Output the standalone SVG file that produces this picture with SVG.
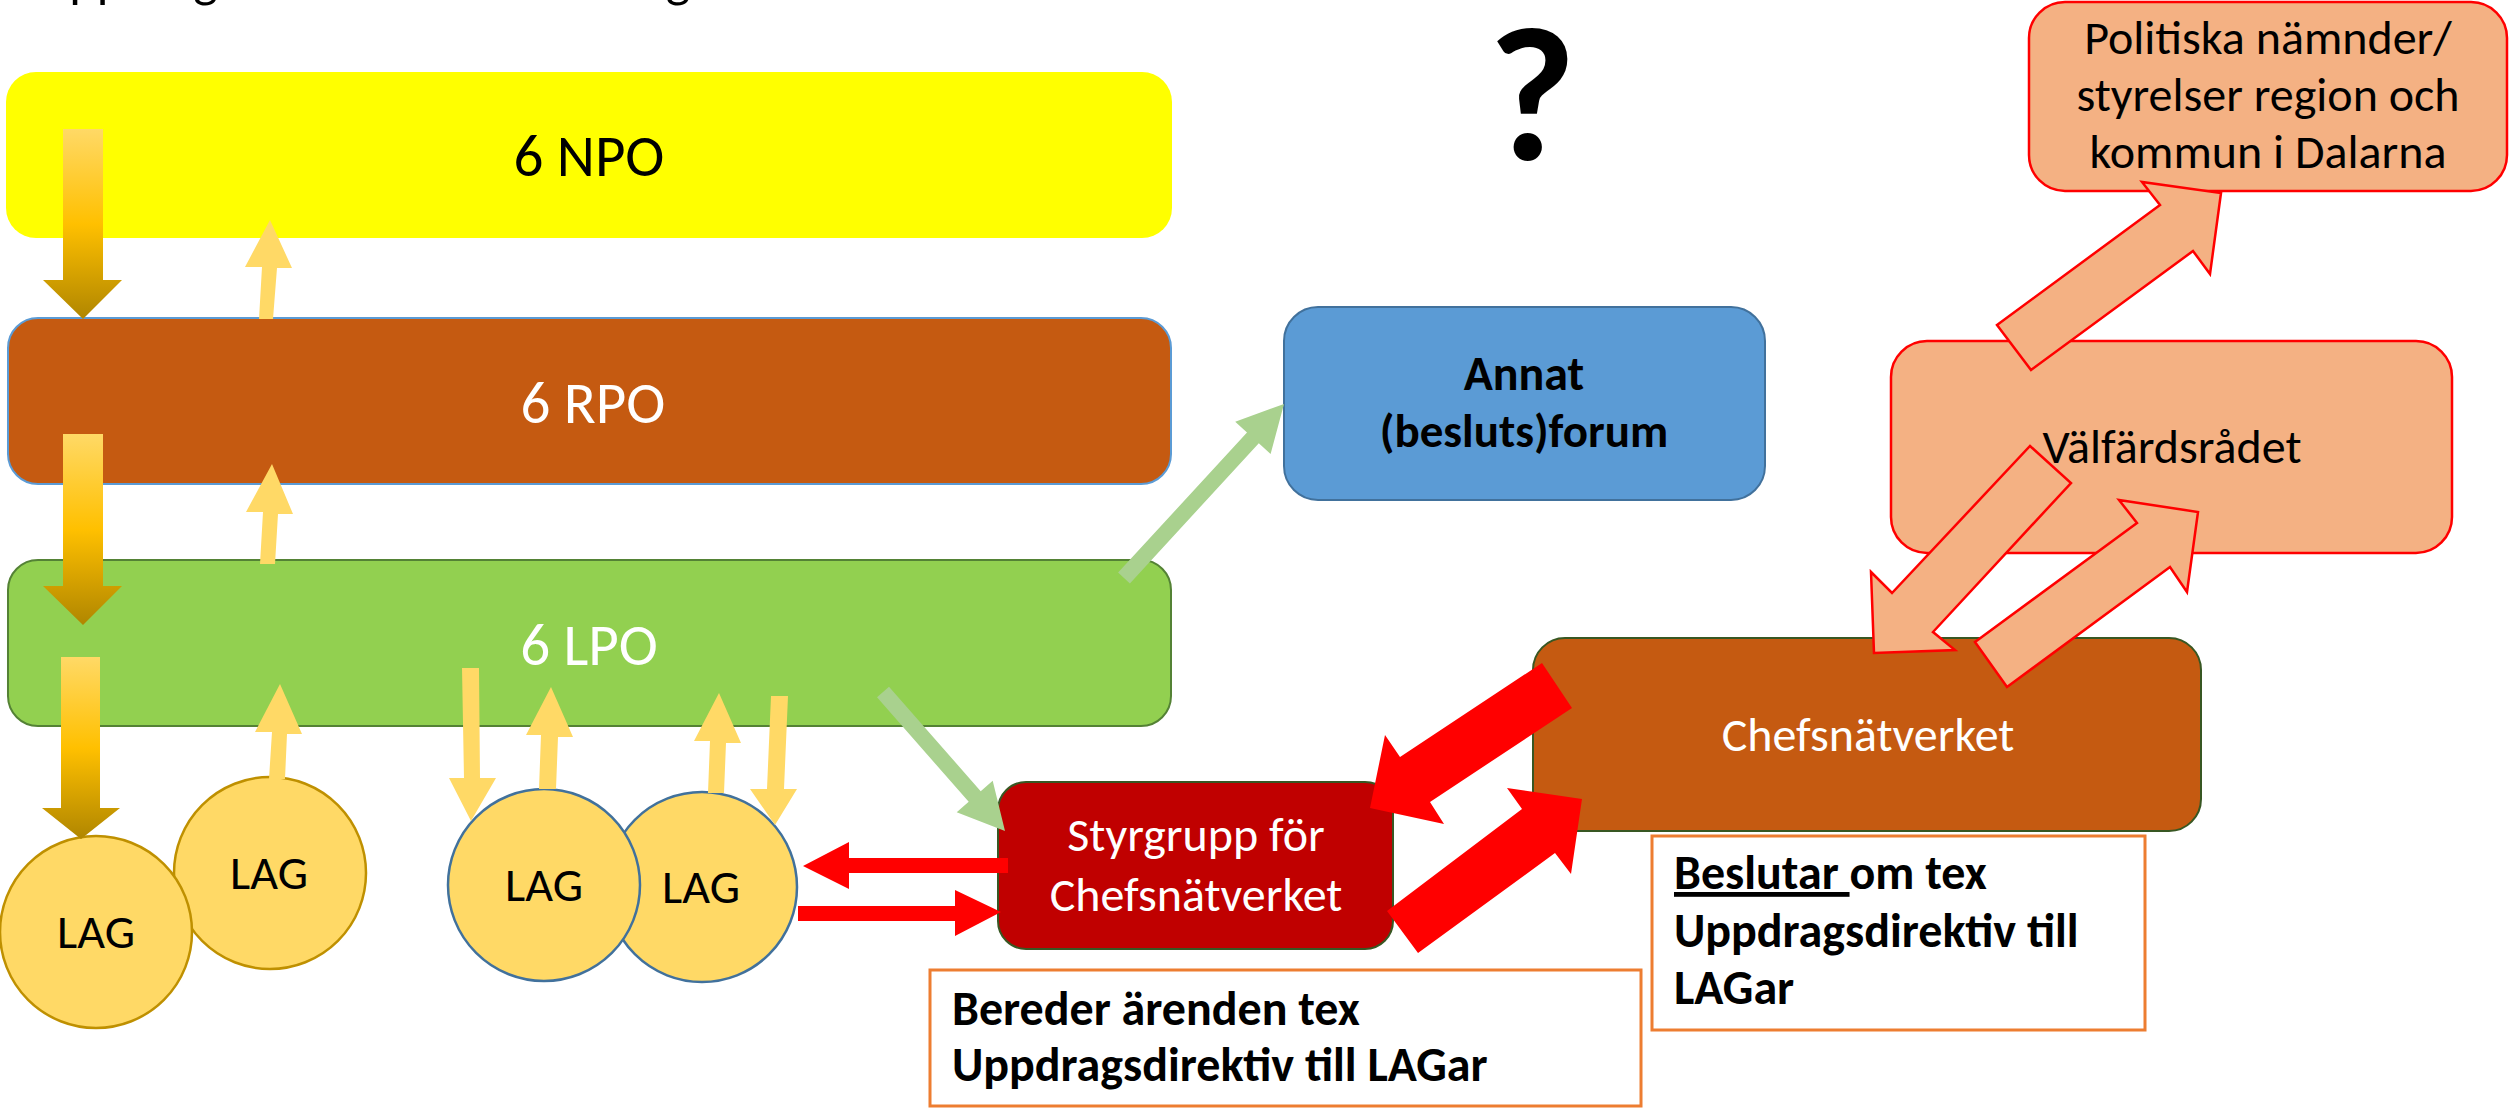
<svg xmlns="http://www.w3.org/2000/svg" width="2509" height="1110" viewBox="0 0 2509 1110">
<defs>
<linearGradient id="gold" x1="0" y1="0" x2="0" y2="1">
<stop offset="0" stop-color="#FFD966"/>
<stop offset="0.5" stop-color="#FFC000"/>
<stop offset="1" stop-color="#B08600"/>
</linearGradient>
<style>
text{font-family:Carlito,Lato,"Liberation Sans",sans-serif;}
.big{font-size:59px;text-anchor:middle;}
.lbl{font-size:48px;text-anchor:middle;}
.bold{font-weight:bold;}
.w{fill:#FFFFFF;}
.k{fill:#000000;}
.lag{fill:#FFD966;stroke-width:2.5;}
.up{fill:#FFD966;}
.grad{fill:url(#gold);}
.green{fill:#A9D18E;}
.red{fill:#FF0000;}
.peach{fill:#F4B183;stroke:#FF0000;stroke-width:2.5;stroke-linejoin:miter;}
.note{fill:#FFFFFF;stroke:#ED7D31;stroke-width:3;}
</style>
</defs>
<rect width="2509" height="1110" fill="#FFFFFF"/>

<text x="36" y="-3" font-size="52" class="k">Uppdrag och ansvarsfördelning</text>

<g id="npo">
<rect x="6" y="72" width="1166" height="166" rx="30" fill="#FFFF00"/>
<text x="589" y="176" class="big k">6 NPO</text>
</g>
<g id="rpo">
<rect x="8" y="318" width="1163" height="166" rx="30" fill="#C55A11" stroke="#5B9BD5" stroke-width="2"/>
<text x="593" y="423" class="big w">6 RPO</text>
</g>
<g id="lpo">
<rect x="8" y="560" width="1163" height="166" rx="30" fill="#92D050" stroke="#548235" stroke-width="2"/>
<text x="589" y="665" class="big w">6 LPO</text>
</g>

<g id="lag2">
<circle cx="270" cy="873" r="96" class="lag" stroke="#BF9000"/>
<text x="269" y="889" class="lbl k">LAG</text>
</g>
<g id="lag1">
<circle cx="96" cy="932" r="96" class="lag" stroke="#BF9000"/>
<text x="96" y="948" class="lbl k">LAG</text>
</g>
<g id="lag4">
<circle cx="702" cy="887" r="95" class="lag" stroke="#41719C"/>
<text x="701" y="903" class="lbl k">LAG</text>
</g>
<g id="lag3">
<circle cx="544" cy="885" r="96" class="lag" stroke="#41719C"/>
<text x="544" y="901" class="lbl k">LAG</text>
</g>

<g id="annat">
<rect x="1284" y="307" width="481" height="193" rx="34" fill="#5B9BD5" stroke="#41719C" stroke-width="2"/>
<text x="1524" y="390" font-size="47" class="lbl k bold">Annat</text>
<text x="1524" y="447" font-size="47" class="lbl k bold" style="font-size:47px">(besluts)forum</text>
</g>

<g id="fraga">
<text x="1532" y="160" font-size="190" font-weight="bold" text-anchor="middle" class="k">?</text>
</g>

<g id="styrgrupp">
<rect x="998" y="782" width="395" height="167" rx="28" fill="#C00000" stroke="#385723" stroke-width="2"/>
<text x="1196" y="851" class="lbl w">Styrgrupp för</text>
<text x="1196" y="911" class="lbl w">Chefsnätverket</text>
</g>

<g id="bereder">
<rect x="930" y="970" width="711" height="136" class="note"/>
<text x="952" y="1025" font-size="48" class="k bold">Bereder ärenden tex</text>
<text x="952" y="1081" font-size="48" class="k bold">Uppdragsdirektiv till LAGar</text>
</g>

<g id="chefsnatverket">
<rect x="1533" y="638" width="668" height="193" rx="32" fill="#C55A11" stroke="#385723" stroke-width="2"/>
<text x="1868" y="751" class="lbl w">Chefsnätverket</text>
</g>

<g id="beslutar">
<rect x="1652" y="836" width="493" height="194" class="note"/>
<text x="1674" y="889" font-size="48" class="k bold"><tspan text-decoration="underline">Beslutar </tspan>om tex</text>
<text x="1674" y="947" font-size="48" class="k bold">Uppdragsdirektiv till</text>
<text x="1674" y="1004" font-size="48" class="k bold">LAGar</text>
</g>

<g id="valfardsradet">
<rect x="1891" y="341" width="561" height="212" rx="36" fill="#F4B183" stroke="#FF0000" stroke-width="2.5"/>
</g>

<g id="politiska">
<rect x="2029" y="2" width="478" height="189" rx="36" fill="#F4B183" stroke="#FF0000" stroke-width="2.5"/>
<text x="2268" y="54" class="lbl k">Politiska nämnder/</text>
<text x="2268" y="111" class="lbl k">styrelser region och</text>
<text x="2268" y="168" class="lbl k">kommun i Dalarna</text>
</g>

<g id="connectors">
<polygon class="grad" points="63,129 103,129 103,280 122,280 83,319 43,280 63,280"/>
<polygon class="grad" points="63,434 103,434 103,586 122,586 83,625 43,586 63,586"/>
<polygon class="grad" points="61,657 100,657 100,808 120,808 81,839 42,808 61,808"/>
<polygon class="up" points="259,319 262,267 245,267 270,220 292,268 277,268 273,319"/>
<polygon class="up" points="260,564 263,512 246,512 272,464 293,514 278,514 275,564"/>
<polygon class="up" points="269,779 272,732 255,732 280,684 302,734 287,734 285,779"/>
<polygon class="up" points="462,668 479,668 480,778 496,778 471,821 449,778 464,778"/>
<polygon class="up" points="539,789 541,735 526,735 551,687 573,737 558,737 556,789"/>
<polygon class="up" points="708,793 710,741 694,741 719,693 741,743 726,743 724,793"/>
<polygon class="up" points="771,696 788,696 784,789 797,789 775,825 750,789 767,789"/>
<polygon class="green" points="1118.1,572.6 1247,432.5 1235.2,421.7 1284,404 1270.6,454.1 1258.8,443.3 1129.9,583.4"/>
<polygon class="green" points="889,686.7 980.7,791.2 992.7,780.7 1005,831 956.7,812.3 968.7,801.8 877,697.3"/>
<polygon class="red" points="1008,858 1008,873 849,873 849,889 803,866 849,842 849,858"/>
<polygon class="red" points="798,906 955,906 955,890 1001,912 955,936 955,921 798,921"/>
<polygon class="red" points="1542,663 1572,708 1430,802 1444,824 1370,808 1385,735 1400,757"/>
<polygon class="red" points="1387,911 1522,809 1507,788 1582,799 1571,874 1555,853 1418,953"/>
<polygon class="peach" points="1997,325 2160,205 2142,182 2221,193 2210,274 2193,251 2031,370"/>
<polygon class="peach" points="2030,446 2071,483 1933,632 1955,650 1874,653 1871,572 1892,593"/>
<polygon class="peach" points="1975,642 2137,523 2119,500 2198,512 2187,592 2170,567 2007,687"/>
</g>

<g id="valfardsradet-label">
<text x="2172" y="463" class="lbl k">Välfärdsrådet</text>
</g>
</svg>
